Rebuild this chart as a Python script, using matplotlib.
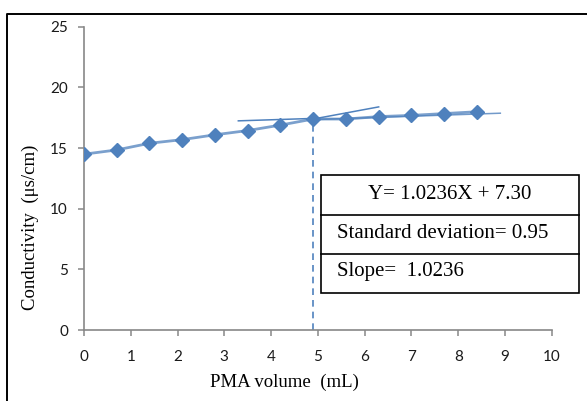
import matplotlib.pyplot as plt
from matplotlib.patches import Rectangle
from matplotlib.lines import Line2D

# data
volume = [0, 0.7, 1.4, 2.1, 2.8, 3.5, 4.2, 4.9, 5.6, 6.3, 7.0, 7.7, 8.4]
conductivity = [14.5, 14.85, 15.4, 15.7, 16.1, 16.45, 16.9, 17.4, 17.4, 17.6, 17.7, 17.85, 18.0]

# tangent lines used to find the end point
tan1_x = [3.3, 4.9]
tan1_y = [17.25, 17.45]
tan2_x = [4.9, 6.3]
tan2_y = [17.4, 18.4]
fit_x = [4.9, 8.9]
fit_y = [17.35, 17.88]
end_point = 4.9

box_lines = ['Y= 1.0236X + 7.30', 'Standard deviation= 0.95', 'Slope=  1.0236']

blue = '#4F81BD'
serif = 'Liberation Serif'

fig = plt.figure(figsize=(5.87, 4.01), dpi=100)
ax = fig.add_axes([0.143, 0.177, 0.797, 0.756])

ax.plot(volume, conductivity, color=blue, lw=2, alpha=0.75, zorder=3)
ax.plot(volume, conductivity, linestyle='none', marker='D', ms=7,
        color=blue, zorder=4)
ax.plot(tan1_x, tan1_y, color=blue, lw=1.1, zorder=2)
ax.plot(tan2_x, tan2_y, color=blue, lw=1.1, zorder=2)
ax.plot(fit_x, fit_y, color=blue, lw=1.1, alpha=0.8, zorder=2)
ax.plot([end_point, end_point], [0, conductivity[7]], color=blue, lw=1.2,
        linestyle=(0, (4, 3)), zorder=2)

ax.set_xlim(0, 10)
ax.set_ylim(0, 25)
ax.set_xticks(range(0, 11))
ax.set_yticks(range(0, 26, 5))

for s in ['top', 'right']:
    ax.spines[s].set_visible(False)
for s in ['left', 'bottom']:
    ax.spines[s].set_color('#888888')
    ax.spines[s].set_linewidth(1.2)
ax.tick_params(colors='#888888', length=4.5, width=1.1)
ax.tick_params(axis='y', pad=7)
ax.tick_params(axis='x', pad=10)
for lab in ax.get_xticklabels() + ax.get_yticklabels():
    lab.set_fontfamily('Lato')
    lab.set_fontsize(11)
    lab.set_color('#1a1a1a')

ax.set_xlabel('PMA volume  (mL)', family=serif, fontsize=13.5)
ax.set_ylabel('Conductivity  (μs/cm)', family=serif, fontsize=13.5)
ax.xaxis.set_label_coords(0.429, -0.145)
ax.yaxis.set_label_coords(-0.096, 0.34)

# result box
bx0, bx1 = 0.547, 0.986
by0, by1 = 0.2693, 0.5636
fig.add_artist(Rectangle((bx0, by0), bx1 - bx0, by1 - by0, transform=fig.transFigure,
                         facecolor='white', edgecolor='black', lw=1.2, zorder=5))
for yy in [0.465, 0.3666]:
    fig.add_artist(Line2D([bx0, bx1], [yy, yy], transform=fig.transFigure,
                          color='black', lw=1.2, zorder=6))
fig.text((bx0 + bx1) / 2, 0.514, box_lines[0], family=serif, fontsize=15,
         ha='center', va='center', zorder=7)
fig.text(0.574, 0.4165, box_lines[1], family=serif, fontsize=15,
         ha='left', va='center', zorder=7)
fig.text(0.574, 0.3217, box_lines[2], family=serif, fontsize=15,
         ha='left', va='center', zorder=7)

# outer frame of the original picture
fig.add_artist(Line2D([7 / 587, 7 / 587, 1], [0, 0.966, 0.966],
                      transform=fig.transFigure, color='black', lw=1.4))

plt.savefig('out.png', dpi=100)
